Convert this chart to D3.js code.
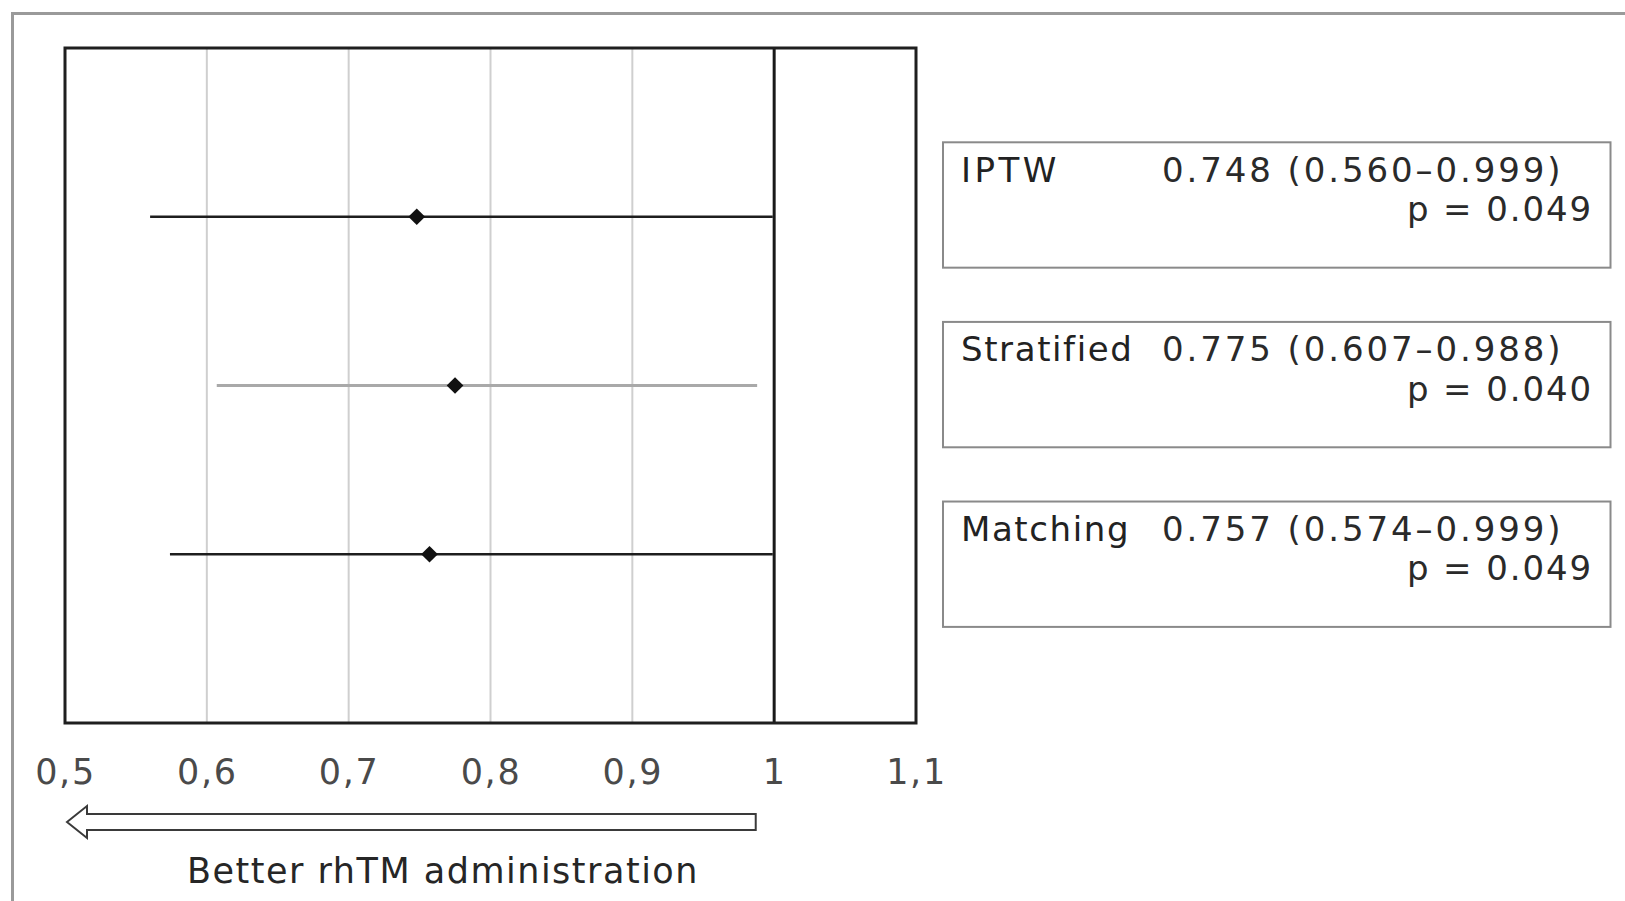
<!DOCTYPE html>
<html>
<head>
<meta charset="utf-8">
<script src="https://cdn.jsdelivr.net/npm/d3@7"></script>
<style>
  html, body { margin: 0; padding: 0; background: #ffffff; }
  svg { display: block; }
  text { font-family: "DejaVu Sans", Verdana, sans-serif; }
</style>
</head>
<body>
<svg id="chart" width="1625" height="901"></svg>
<script>
// Hazard ratios of rhTM administration by propensity-score method
const categories = ["IPTW", "Stratified", "Matching"];
const estimates  = [0.748, 0.775, 0.757];
const lowerCI    = [0.560, 0.607, 0.574];
const upperCI    = [0.999, 0.988, 0.999];
const pValues    = ["0.049", "0.040", "0.049"];

const tickValues = [0.5, 0.6, 0.7, 0.8, 0.9, 1, 1.1];
const tickLabels = ["0,5", "0,6", "0,7", "0,8", "0,9", "1", "1,1"];
const directionLabel = "Better rhTM administration";

const rows = categories.map((c, i) => ({
  name: c, est: estimates[i], lo: lowerCI[i], hi: upperCI[i], p: pValues[i]
}));

const svg = d3.select("#chart");

// outer frame (runs off the right and bottom edges)
svg.append("rect")
  .attr("x", 12.5).attr("y", 13.5)
  .attr("width", 1700).attr("height", 1000)
  .attr("fill", "none").attr("stroke", "#9a9a9a").attr("stroke-width", 3);

// plot area
const plot = { left: 65, right: 916, top: 48, bottom: 723 };

const x = d3.scaleLinear()
  .domain([tickValues[0], tickValues[tickValues.length - 1]])
  .range([plot.left, plot.right]);

const y = d3.scalePoint()
  .domain(categories)
  .range([plot.top, plot.bottom])
  .padding(1);

// light grid lines
svg.append("g")
  .selectAll("line")
  .data(tickValues.filter(v => v > 0.5 && v < 1))
  .join("line")
  .attr("x1", d => x(d)).attr("x2", d => x(d))
  .attr("y1", plot.top).attr("y2", plot.bottom)
  .attr("stroke", "#cfcfcf").attr("stroke-width", 2);

// confidence intervals
const ciStroke = { IPTW: "#1e1e1e", Stratified: "#a9a9a9", Matching: "#1e1e1e" };
const ciWidth  = { IPTW: 2.4, Stratified: 3, Matching: 2.4 };

svg.append("g")
  .selectAll("line")
  .data(rows)
  .join("line")
  .attr("x1", d => x(d.lo)).attr("x2", d => x(d.hi))
  .attr("y1", d => y(d.name)).attr("y2", d => y(d.name))
  .attr("stroke", d => ciStroke[d.name])
  .attr("stroke-width", d => ciWidth[d.name]);

// line of no effect
svg.append("line")
  .attr("x1", x(1)).attr("x2", x(1))
  .attr("y1", plot.top).attr("y2", plot.bottom)
  .attr("stroke", "#1a1a1a").attr("stroke-width", 3);

// point estimates
const diamond = d3.symbol().type(d3.symbolSquare).size(140);
svg.append("g")
  .selectAll("path")
  .data(rows)
  .join("path")
  .attr("d", diamond)
  .attr("transform", d => `translate(${x(d.est)},${y(d.name)}) rotate(45)`)
  .attr("fill", "#111");

// plot border
svg.append("rect")
  .attr("x", plot.left).attr("y", plot.top)
  .attr("width", plot.right - plot.left).attr("height", plot.bottom - plot.top)
  .attr("fill", "none").attr("stroke", "#1f1f1f").attr("stroke-width", 3);

// x axis labels
const xAxis = d3.axisBottom(x)
  .tickValues(tickValues)
  .tickFormat((d, i) => tickLabels[i])
  .tickSize(0)
  .tickPadding(36);

const axisG = svg.append("g")
  .attr("transform", `translate(0,${plot.bottom})`)
  .call(xAxis);
axisG.select(".domain").remove();
axisG.selectAll("text")
  .attr("font-family", "'DejaVu Sans', Verdana, sans-serif")
  .attr("font-size", 35)
  .attr("letter-spacing", "1.7px")
  .attr("fill", "#4a4a4a");

// direction arrow
const arrowY = 822, headHalf = 16, shaftHalf = 8;
const tipX = x(0.5) + 2, headBaseX = tipX + 20, tailX = x(0.987);
const arrowPts = [
  [tipX, arrowY],
  [headBaseX, arrowY - headHalf],
  [headBaseX, arrowY - shaftHalf],
  [tailX, arrowY - shaftHalf],
  [tailX, arrowY + shaftHalf],
  [headBaseX, arrowY + shaftHalf],
  [headBaseX, arrowY + headHalf]
];
svg.append("path")
  .attr("d", d3.line()(arrowPts) + "Z")
  .attr("fill", "#ffffff").attr("stroke", "#3a3a3a").attr("stroke-width", 2);

svg.append("text")
  .attr("x", 443).attr("y", 883)
  .attr("text-anchor", "middle")
  .attr("font-size", 35)
  .attr("letter-spacing", "1.5px")
  .attr("fill", "#262626")
  .text(directionLabel);

// result boxes
const box = d3.scaleBand()
  .domain(categories)
  .range([142.3, 626.9])
  .paddingInner(0.302)
  .paddingOuter(0);

const boxLeft = 943, boxRight = 1610.5;
const fmt = d3.format(".3f");

const boxes = svg.append("g")
  .selectAll("g")
  .data(rows)
  .join("g")
  .attr("transform", d => `translate(0,${box(d.name)})`);

boxes.append("rect")
  .attr("x", boxLeft).attr("y", 0)
  .attr("width", boxRight - boxLeft).attr("height", box.bandwidth())
  .attr("fill", "#ffffff").attr("stroke", "#8a8a8a").attr("stroke-width", 2);

boxes.append("text")
  .attr("x", 961).attr("y", 39.4)
  .attr("font-size", 34)
  .attr("letter-spacing", d => d.name === "IPTW" ? "3.5px" : "1.6px")
  .attr("fill", "#222")
  .text(d => d.name);

boxes.append("text")
  .attr("x", 1162).attr("y", 39.4)
  .attr("font-size", 34)
  .attr("letter-spacing", "2.9px")
  .attr("fill", "#2a2a2a")
  .text(d => `${fmt(d.est)} (${fmt(d.lo)}\u2013${fmt(d.hi)})`);

boxes.append("text")
  .attr("x", 1593).attr("y", 78.7)
  .attr("text-anchor", "end")
  .attr("font-size", 34)
  .attr("letter-spacing", "1.9px")
  .attr("fill", "#2a2a2a")
  .text(d => `p = ${d.p}`);
</script>
</body>
</html>
